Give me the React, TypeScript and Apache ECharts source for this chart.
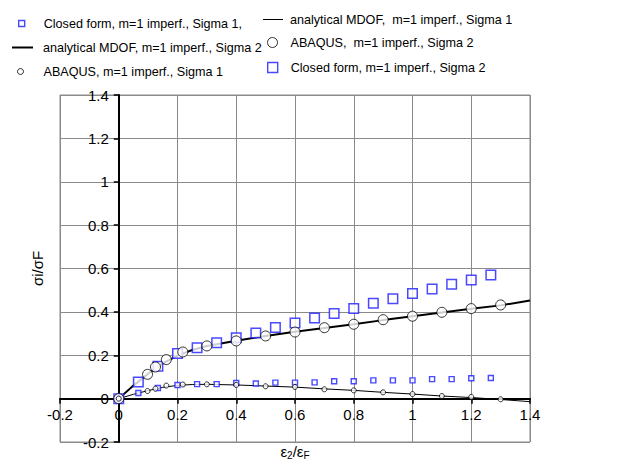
import React, { useEffect, useRef } from 'react';
import * as echarts from 'echarts';

// Closed form solution (squares)
const closedX = [0, 0.0667, 0.1333, 0.2, 0.2667, 0.3333, 0.4, 0.4667, 0.5333, 0.6, 0.6667, 0.7333, 0.8, 0.8667, 0.9333, 1.0, 1.0667, 1.1333, 1.2, 1.2667];
const closedSigma1 = [0, 0.026, 0.049, 0.063, 0.067, 0.067, 0.072, 0.07, 0.074, 0.074, 0.075, 0.08, 0.08, 0.084, 0.084, 0.084, 0.09, 0.09, 0.094, 0.095];
const closedSigma2 = [0, 0.077, 0.149, 0.208, 0.235, 0.258, 0.281, 0.303, 0.328, 0.349, 0.372, 0.392, 0.416, 0.44, 0.461, 0.485, 0.506, 0.527, 0.547, 0.57];

// ABAQUS results (circles)
const abaqusX = [0, 0.098, 0.125, 0.162, 0.218, 0.3, 0.4, 0.5, 0.6, 0.7, 0.8, 0.9, 1.0, 1.1, 1.2, 1.3];
const abaqusSigma1 = [0, 0.035, 0.046, 0.06, 0.065, 0.066, 0.063, 0.057, 0.054, 0.043, 0.038, 0.029, 0.021, 0.012, 0.008, -0.003];
const abaqusSigma2 = [0, 0.112, 0.146, 0.18, 0.215, 0.243, 0.266, 0.289, 0.307, 0.327, 0.343, 0.364, 0.38, 0.398, 0.415, 0.432];

// Analytical MDOF (lines)
const mdofX = [0, 0.05, 0.1, 0.15, 0.2, 0.25, 0.3, 0.4, 0.5, 0.6, 0.7, 0.8, 0.9, 1.0, 1.1, 1.2, 1.3, 1.4];
const mdofSigma1 = [0, 0.02, 0.037, 0.052, 0.061, 0.065, 0.066, 0.063, 0.058, 0.053, 0.045, 0.038, 0.029, 0.021, 0.012, 0.005, -0.004, -0.014];
const mdofSigma2 = [0, 0.06, 0.115, 0.163, 0.198, 0.224, 0.243, 0.267, 0.289, 0.308, 0.326, 0.343, 0.362, 0.38, 0.397, 0.414, 0.43, 0.452];

const axisMin = -0.2;
const axisMax = 1.4;
const axisStep = 0.2;

const names = {
  cf1: 'Closed form, m=1 imperf., Sigma 1,',
  an2: 'analytical MDOF, m=1 imperf., Sigma 2',
  ab1: 'ABAQUS, m=1 imperf., Sigma 1',
  an1: 'analytical MDOF,  m=1 imperf., Sigma 1',
  ab2: 'ABAQUS,  m=1 imperf., Sigma 2',
  cf2: 'Closed form, m=1 imperf., Sigma 2',
};

const zip = (xs: number[], ys: number[]) => xs.map((x, i) => [x, ys[i]]);

const FONT = 'Liberation Sans, Arial, Helvetica, sans-serif';
const BLUE = '#1c1cff';

// plot area
const GRID = { left: 60, right: 89, top: 95, bottom: 28 };
const W = 619;
const H = 470;

export default function App() {
  const ref = useRef<HTMLDivElement>(null);
  useEffect(() => {
    document.body.style.margin = '0';
    const chart = echarts.init(ref.current!, null, { renderer: 'svg' });
    const plotW = W - GRID.left - GRID.right;
    const plotH = H - GRID.top - GRID.bottom;
    // shift axes so they cross at zero (labels move with them)
    const yAxisOffset = -((0 - axisMin) / (axisMax - axisMin)) * plotW;
    const xAxisOffset = -((0 - axisMin) / (axisMax - axisMin)) * plotH;

    const hollowBlue = { color: '#fff', borderColor: BLUE, borderWidth: 1.4 };
    const hollowBlack = { color: '#fff', borderColor: '#000', borderWidth: 1 };
    const solidBlack = { color: '#000', borderWidth: 0 };

    const mkLegend = (
      name: string,
      icon: string,
      itemStyle: any,
      left: number,
      top: number,
      w: number,
      h: number,
      pad: number,
    ) => ({
      data: [{ name, icon }],
      left,
      top,
      itemWidth: w,
      itemHeight: h,
      selectedMode: false,
      padding: 0,
      itemStyle,
      textStyle: {
        fontFamily: FONT,
        fontSize: 12.6,
        color: '#000',
        padding: [0, 0, 0, pad],
      },
    });
    chart.setOption({
      animation: false,
      backgroundColor: '#fff',
      textStyle: { fontFamily: FONT },
      legend: [
        mkLegend(names.cf1, 'rect', hollowBlue, 18, 17, 6, 6, 14),
        mkLegend(names.an2, 'rect', solidBlack, 12, 41, 21, 2, 5),
        mkLegend(names.ab1, 'circle', hollowBlack, 17, 65, 6, 6, 15),
        mkLegend(names.an1, 'rect', solidBlack, 263, 13, 20, 1, 2),
        mkLegend(names.ab2, 'circle', hollowBlack, 267, 36, 10, 10, 8),
        mkLegend(names.cf2, 'rect', hollowBlue, 267, 61, 10, 10, 8),
      ],
      grid: {
        ...GRID,
        show: true,
        borderColor: '#8a8a8a',
        borderWidth: 1,
        containLabel: false,
        outerBoundsMode: 'none',
      },
      xAxis: {
        type: 'value',
        min: axisMin,
        max: axisMax,
        interval: axisStep,
        offset: xAxisOffset,
        name: '{t|ε}{s|2}{t|/ε}{s|F}',
        nameLocation: 'middle',
        nameGap: 44,
        nameTextStyle: {
          rich: {
            t: { fontFamily: FONT, fontSize: 15, color: '#000' },
            s: { fontFamily: FONT, fontSize: 10, color: '#000', padding: [8, 0, 0, 0] },
          },
        },
        axisLine: { onZero: false, lineStyle: { color: '#000', width: 2 } },
        axisTick: { show: true, length: 5, lineStyle: { color: '#000', width: 1.5 } },
        axisLabel: { color: '#000', fontSize: 15, fontFamily: FONT, margin: 8 },
        splitLine: { show: true, lineStyle: { color: '#8a8a8a', width: 1 } },
      },
      yAxis: {
        type: 'value',
        min: axisMin,
        max: axisMax,
        interval: axisStep,
        offset: yAxisOffset,
        name: 'σi/σF',
        nameLocation: 'middle',
        nameRotate: 90,
        nameGap: 74,
        nameTextStyle: { fontFamily: FONT, fontSize: 15, color: '#000' },
        axisLine: { onZero: false, lineStyle: { color: '#000', width: 2 } },
        axisTick: { show: true, length: 5, lineStyle: { color: '#000', width: 1.5 } },
        axisLabel: { color: '#000', fontSize: 15, fontFamily: FONT, margin: 10 },
        splitLine: { show: true, lineStyle: { color: '#8a8a8a', width: 1 } },
      },
      series: [
        {
          name: names.an1,
          type: 'line',
          data: zip(mdofX, mdofSigma1),
          showSymbol: false,
          symbol: 'none',
          lineStyle: { color: '#000', width: 1 },
          itemStyle: { color: '#000' },
          z: 2,
        },
        {
          name: names.an2,
          type: 'line',
          data: zip(mdofX, mdofSigma2),
          showSymbol: false,
          symbol: 'none',
          lineStyle: { color: '#000', width: 2 },
          itemStyle: { color: '#000' },
          z: 2,
        },
        {
          name: names.cf2,
          type: 'scatter',
          symbol: 'rect',
          symbolSize: 9.5,
          data: zip(closedX, closedSigma2),
          itemStyle: { color: '#fff', borderColor: BLUE, borderWidth: 1.5 },
          z: 3,
        },
        {
          name: names.cf1,
          type: 'scatter',
          symbol: 'rect',
          symbolSize: 5,
          data: zip(closedX, closedSigma1),
          itemStyle: { color: '#fff', borderColor: BLUE, borderWidth: 1.4 },
          z: 3,
        },
        {
          name: names.ab2,
          type: 'scatter',
          symbol: 'circle',
          symbolSize: 10,
          data: zip(abaqusX, abaqusSigma2),
          itemStyle: { color: '#fff', borderColor: '#000', borderWidth: 1 },
          z: 4,
        },
        {
          name: names.ab1,
          type: 'scatter',
          symbol: 'circle',
          symbolSize: 5,
          data: zip(abaqusX, abaqusSigma1),
          itemStyle: { color: '#fff', borderColor: '#000', borderWidth: 1 },
          z: 4,
        },
      ],
    });
    return () => chart.dispose();
  }, []);
  return <div ref={ref} style={{ width: W, height: H }} />;
}
